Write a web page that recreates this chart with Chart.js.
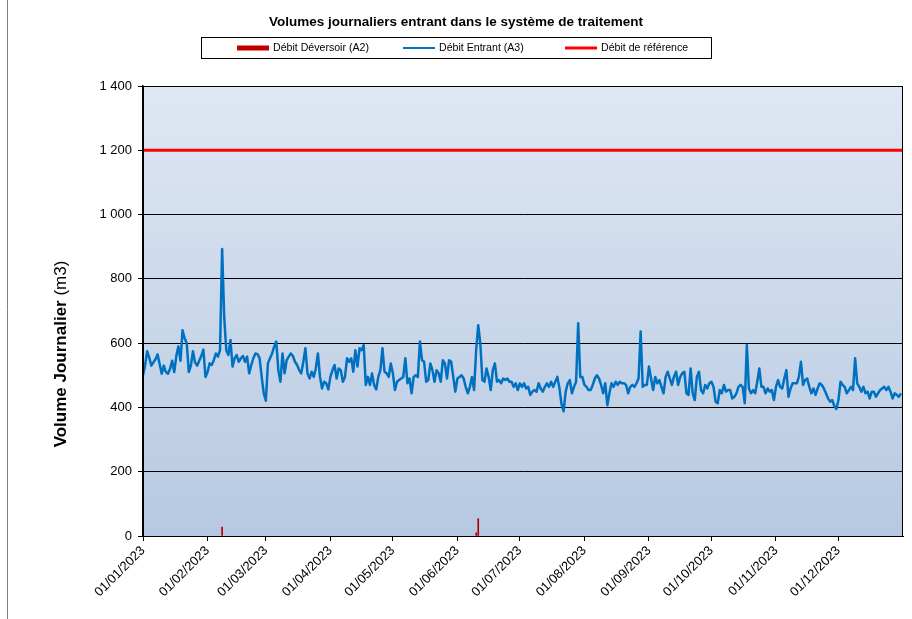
<!DOCTYPE html>
<html>
<head>
<meta charset="utf-8">
<script src="https://cdn.jsdelivr.net/npm/chart.js@4/dist/chart.umd.min.js"></script>
<style>
  html, body { margin: 0; padding: 0; background: #fff; }
  #wrap { width: 912px; height: 619px; position: relative; }
</style>
</head>
<body>
<div id="wrap"><canvas id="volChart"></canvas></div>
<script>
// tick positions (day index in 2023) and their labels
const monthStarts = [0, 31, 59, 90, 120, 151, 181, 212, 243, 273, 304, 334];
const monthLabels = ['01/01/2023', '01/02/2023', '01/03/2023', '01/04/2023', '01/05/2023', '01/06/2023',
    '01/07/2023', '01/08/2023', '01/09/2023', '01/10/2023', '01/11/2023', '01/12/2023'];

// Débit Entrant (A3), one value per day, month by month
const jan = [500, 530, 575, 555, 530, 540, 550, 565, 535, 505, 530, 510, 505, 520, 545, 510, 560, 590, 545, 640,
    615, 600, 510, 530, 575, 540, 530, 545, 560, 580, 495];
const feb = [510, 537, 532, 547, 568, 558, 578, 893, 680, 578, 563, 610, 527, 553, 563, 542, 553, 560, 542, 558,
    506, 532, 553, 568, 566, 553, 495, 444];
const mar = [421, 537, 553, 568, 589, 605, 516, 480, 568, 506, 547, 558, 568, 560, 542, 532, 516, 506, 542, 584,
    506, 490, 511, 495, 521, 568, 495, 459, 480, 475, 456];
const apr = [495, 516, 532, 490, 521, 516, 480, 495, 553, 542, 553, 511, 578, 527, 584, 578, 594, 470, 495, 470,
    506, 470, 456, 495, 516, 584, 511, 506, 495, 537];
const may = [506, 454, 480, 485, 490, 495, 553, 475, 490, 444, 495, 500, 495, 605, 547, 542, 480, 485, 537, 516,
    480, 516, 506, 480, 547, 537, 490, 547, 542, 495, 449];
const jun = [490, 495, 500, 490, 464, 444, 464, 495, 454, 578, 656, 599, 485, 480, 521, 495, 454, 516, 537, 480,
    485, 475, 490, 485, 490, 480, 480, 464, 475, 454];
const jul = [475, 464, 475, 459, 464, 439, 449, 454, 449, 475, 459, 449, 464, 475, 464, 480, 464, 480, 495, 460,
    410, 388, 449, 475, 485, 444, 464, 480, 662, 495, 495];
const aug = [470, 464, 454, 454, 470, 490, 500, 490, 470, 444, 475, 407, 444, 475, 464, 480, 470, 480, 475, 475,
    470, 444, 464, 470, 464, 475, 490, 636, 464, 470, 470];
const sep = [527, 490, 454, 495, 475, 485, 464, 444, 495, 511, 490, 470, 495, 511, 470, 495, 506, 511, 444, 439,
    521, 444, 423, 495, 511, 454, 444, 470, 459, 475];
const oct = [480, 464, 418, 413, 454, 444, 470, 449, 454, 454, 428, 433, 444, 464, 470, 464, 413, 594, 459, 444,
    454, 444, 480, 521, 464, 464, 444, 459, 449, 454, 423];
const nov = [464, 485, 464, 459, 490, 516, 433, 459, 475, 475, 475, 495, 542, 470, 485, 490, 464, 444, 459, 439,
    459, 475, 470, 459, 444, 428, 418, 423, 405, 395];
const dec = [423, 480, 470, 464, 444, 454, 464, 454, 553, 475, 464, 449, 464, 444, 449, 428, 449, 449, 433, 444,
    454, 459, 464, 454, 464, 449, 428, 444, 439, 433, 444];

// Débit Déversoir (A2): only the days with an overflow
const deversoirDays = [38, 160, 161];
const deversoirValues = [28, 10, 54];

// Débit de référence
const referenceValue = 1200;
const yearDays = 365;

const entrant = [].concat(jan, feb, mar, apr, may, jun, jul, aug, sep, oct, nov, dec);

const FONT = 'Arial, "Liberation Sans", sans-serif';

// background gradient + frame of the plot area, outer frame, legend box and y title
const decorPlugin = {
    id: 'decor',
    beforeDraw(chart) {
        const ctx = chart.ctx;
        const a = chart.chartArea;
        ctx.save();
        ctx.fillStyle = '#fff';
        ctx.fillRect(0, 0, chart.width, chart.height);
        const g = ctx.createLinearGradient(0, a.top, 0, a.bottom);
        g.addColorStop(0, '#dfe7f3');
        g.addColorStop(1, '#b6c9e2');
        ctx.fillStyle = g;
        ctx.fillRect(a.left, a.top, a.right - a.left, a.bottom - a.top);
        ctx.restore();
    },
    afterDraw(chart) {
        const ctx = chart.ctx;
        const a = chart.chartArea;
        ctx.save();
        // plot frame
        ctx.strokeStyle = '#000';
        ctx.lineWidth = 1;
        ctx.strokeRect(a.left + 0.5, a.top + 0.5, a.right - a.left - 1, a.bottom - a.top);
        // outer frame (left edge)
        ctx.strokeStyle = '#808080';
        ctx.beginPath();
        ctx.moveTo(7.5, 0);
        ctx.lineTo(7.5, chart.height);
        ctx.stroke();

        // title
        ctx.fillStyle = '#000';
        ctx.font = 'bold 13.5px ' + FONT;
        ctx.textAlign = 'center';
        ctx.textBaseline = 'middle';
        ctx.fillText('Volumes journaliers entrant dans le système de traitement', 456, 22);

        // legend box
        ctx.strokeStyle = '#000';
        ctx.strokeRect(201.5, 37.5, 510, 21);
        const items = [
            { x: 237, color: '#c00000', w: 5, text: 'Débit Déversoir (A2)' },
            { x: 403, color: '#0070c0', w: 2, text: 'Débit Entrant (A3)' },
            { x: 565, color: '#ff0000', w: 3, text: 'Débit de référence' }
        ];
        ctx.font = '10.6px ' + FONT;
        ctx.textAlign = 'left';
        items.forEach(it => {
            ctx.strokeStyle = it.color;
            ctx.lineWidth = it.w;
            ctx.beginPath();
            ctx.moveTo(it.x, 48);
            ctx.lineTo(it.x + 32, 48);
            ctx.stroke();
            ctx.fillStyle = '#000';
            ctx.fillText(it.text, it.x + 36, 48);
        });

        // y axis title, bold part + normal part
        ctx.translate(61, 354);
        ctx.rotate(-Math.PI / 2);
        ctx.textBaseline = 'middle';
        ctx.font = 'bold 17px ' + FONT;
        const p1 = 'Volume Journalier';
        const w1 = ctx.measureText(p1).width;
        ctx.font = '17px ' + FONT;
        const p2 = ' (m3)';
        const w2 = ctx.measureText(p2).width;
        const x0 = -(w1 + w2) / 2;
        ctx.font = 'bold 17px ' + FONT;
        ctx.fillText(p1, x0, 0);
        ctx.font = '17px ' + FONT;
        ctx.fillText(p2, x0 + w1, 0);
        ctx.restore();
    }
};

const ctx = document.getElementById('volChart').getContext('2d');
new Chart(ctx, {
    data: {
        datasets: [
            {
                type: 'bar',
                label: 'Débit Déversoir (A2)',
                data: deversoirDays.map((d, i) => ({ x: d, y: deversoirValues[i] })),
                backgroundColor: '#b00000',
                barThickness: 1,
                order: 1
            },
            {
                type: 'line',
                label: 'Débit Entrant (A3)',
                data: entrant.map((v, i) => ({ x: i, y: v })),
                borderColor: '#0070c0',
                borderWidth: 2.5,
                pointRadius: 0,
                tension: 0,
                borderJoinStyle: 'round',
                order: 2
            },
            {
                type: 'line',
                label: 'Débit de référence',
                data: [{ x: 0, y: referenceValue }, { x: yearDays, y: referenceValue }],
                borderColor: '#ff0000',
                borderWidth: 3,
                pointRadius: 0,
                order: 3
            }
        ]
    },
    options: {
        responsive: true,
        maintainAspectRatio: false,
        animation: false,
        layout: { padding: { top: 86, right: 9, left: 0, bottom: 0 } },
        plugins: {
            legend: { display: false },
            title: { display: false },
            tooltip: { enabled: false }
        },
        scales: {
            x: {
                type: 'linear',
                min: 0,
                max: yearDays,
                offset: false,
                afterBuildTicks: scale => {
                    scale.ticks = monthStarts.map(v => ({ value: v }));
                },
                afterFit: scale => { scale.height = 83; },
                ticks: {
                    autoSkip: false,
                    maxRotation: 45,
                    minRotation: 45,
                    color: '#000',
                    font: { family: FONT, size: 13 },
                    padding: 2,
                    callback: value => monthLabels[monthStarts.indexOf(value)]
                },
                grid: {
                    offset: false,
                    drawOnChartArea: false,
                    drawTicks: true,
                    tickLength: 5,
                    color: '#000'
                },
                border: { color: '#000', width: 1 }
            },
            y: {
                min: 0,
                max: 1400,
                afterFit: scale => { scale.width = 143; },
                ticks: {
                    stepSize: 200,
                    color: '#000',
                    padding: 6,
                    font: { family: FONT, size: 13 },
                    callback: value => value.toLocaleString('fr-FR').replace(/\s/g, ' ')
                },
                grid: {
                    color: '#000',
                    lineWidth: 1,
                    tickLength: 5
                },
                border: { color: '#000', width: 1.5 }
            }
        }
    },
    plugins: [decorPlugin]
});
</script>
</body>
</html>
